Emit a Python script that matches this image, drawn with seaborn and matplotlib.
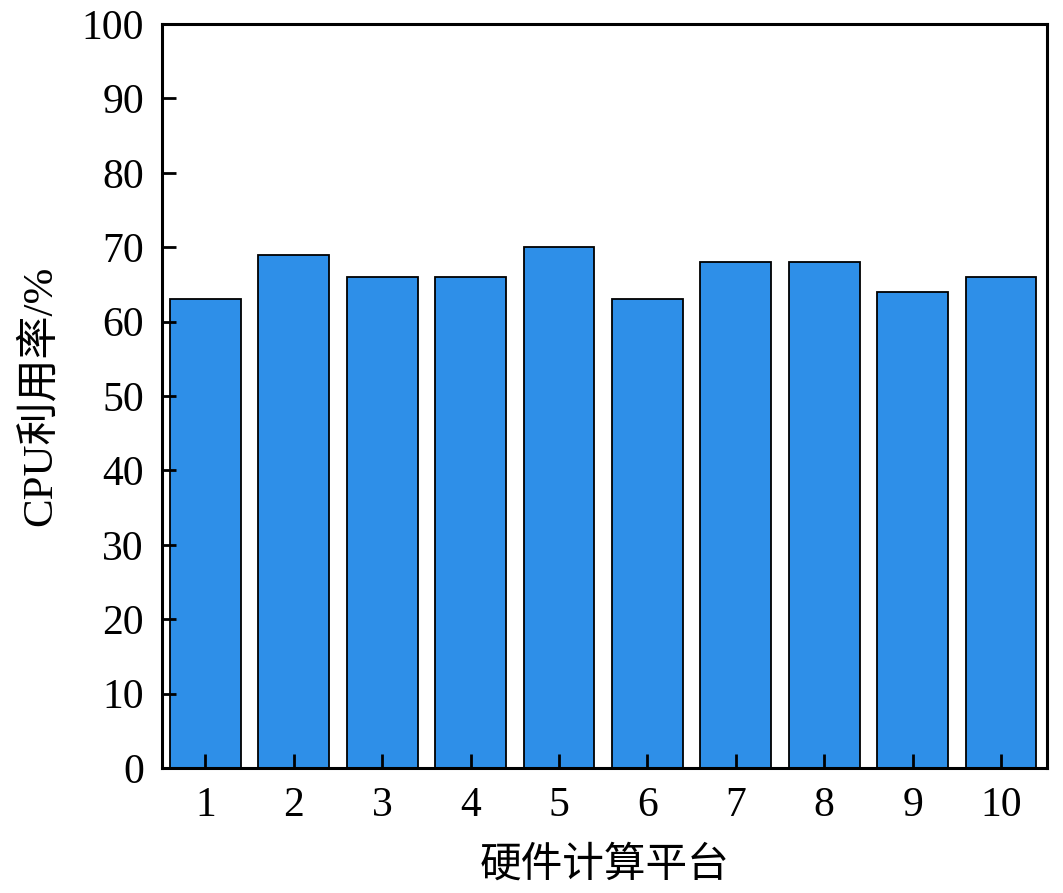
import matplotlib
matplotlib.use("Agg")
import matplotlib.pyplot as plt
import seaborn as sns
import pandas as pd

platforms = ["1", "2", "3", "4", "5", "6", "7", "8", "9", "10"]
cpu_usage = [63, 69, 66, 66, 70, 63, 68, 68, 64, 66]

sns.set_theme(style="ticks")
plt.rcParams['font.family'] = ['Liberation Serif', 'Noto Sans CJK SC']
plt.rcParams['axes.unicode_minus'] = False
plt.rcParams['text.color'] = 'black'
plt.rcParams['axes.labelcolor'] = 'black'
plt.rcParams['xtick.color'] = 'black'
plt.rcParams['ytick.color'] = 'black'

df = pd.DataFrame({"platform": platforms, "usage": cpu_usage})

fig = plt.figure(figsize=(10.63, 8.93), dpi=100)
ax = fig.add_axes([162/1063, 1 - 768/893, (1047-162)/1063, (768-24)/893])

sns.barplot(data=df, x="platform", y="usage", color="#2E8FE8", saturation=1,
            edgecolor="black", linewidth=1.3, width=0.8, ax=ax)

ax.set_axisbelow(False)
ax.set_xlim(-0.49, 9.52)
ax.set_ylim(0, 100)
ax.set_yticks(range(0, 101, 10))
ax.set_xlabel("硬件计算平台", fontsize=30, labelpad=16)
ax.set_ylabel("CPU利用率/%", fontsize=31, labelpad=16)
ax.tick_params(axis="both", direction="in", length=10, width=2, labelsize=30, pad=13,
               top=False, right=False, colors="black", labelcolor="black")
for s in ax.spines.values():
    s.set_linewidth(2.2)
    s.set_color("black")
    s.set_visible(True)
    s.set_zorder(5)
ax.xaxis.set_zorder(5)
ax.yaxis.set_zorder(5)

fig.savefig("out.png", dpi=100)
